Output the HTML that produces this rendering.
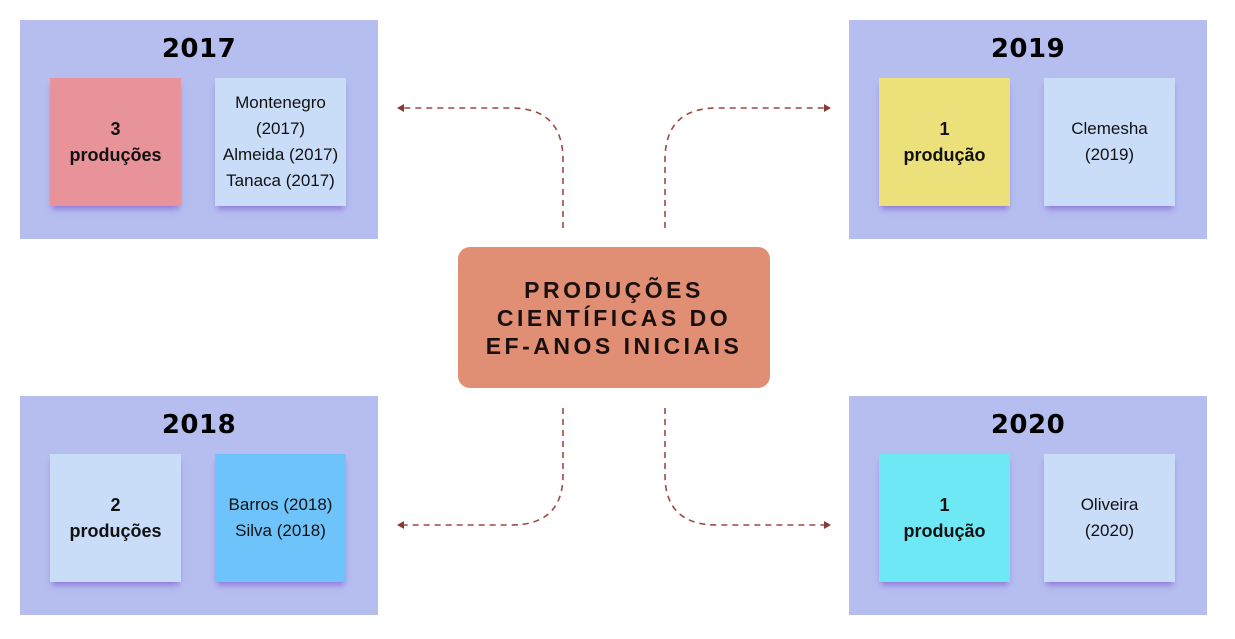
<!DOCTYPE html>
<html><head><meta charset="utf-8"><style>
body{margin:0;width:1235px;height:639px;background:#fff;position:relative;overflow:hidden;font-family:"Liberation Sans",sans-serif}
.p{position:absolute;background:#b6bef0;width:358px;height:219px}
.t{position:absolute;left:0;right:0;text-align:center;font-weight:900;font-size:26px;top:14px;color:#000;letter-spacing:0.5px;font-family:"DejaVu Sans","Liberation Sans",sans-serif}
.b{position:absolute;width:131px;height:128px;display:flex;align-items:center;justify-content:center;text-align:center;box-shadow:0 5px 6px -2px rgba(110,60,200,0.55);font-size:17px;line-height:26px;color:#111}
.bold{font-weight:bold;font-size:18px}
.l{background:#c9dcf8}
.c{position:absolute;left:458px;top:247px;width:312px;height:141px;background:#e08f74;border-radius:12px;display:flex;align-items:center;justify-content:center;text-align:center;font-weight:bold;font-size:23px;letter-spacing:3.5px;line-height:28px;color:#1a1010}
</style></head><body>
<div class="p" style="left:20px;top:20px"><div class="t">2017</div>
<div class="b bold" style="left:30px;top:58px;background:#e8939a">3<br>produções</div>
<div class="b l" style="left:195px;top:58px">Montenegro<br>(2017)<br>Almeida (2017)<br>Tanaca (2017)</div></div>
<div class="p" style="left:849px;top:20px"><div class="t">2019</div>
<div class="b bold" style="left:30px;top:58px;background:#ebe07a">1<br>produção</div>
<div class="b l" style="left:195px;top:58px">Clemesha<br>(2019)</div></div>
<div class="p" style="left:20px;top:396px"><div class="t">2018</div>
<div class="b bold l" style="left:30px;top:58px">2<br>produções</div>
<div class="b" style="left:195px;top:58px;background:#6ec4fa">Barros (2018)<br>Silva (2018)</div></div>
<div class="p" style="left:849px;top:396px"><div class="t">2020</div>
<div class="b bold" style="left:30px;top:58px;background:#6ee8f4">1<br>produção</div>
<div class="b l" style="left:195px;top:58px">Oliveira<br>(2020)</div></div>
<div class="c">PRODUÇÕES<br>CIENTÍFICAS DO<br>EF-ANOS INICIAIS</div>
<svg width="1235" height="639" style="position:absolute;left:0;top:0">
<g fill="none" stroke="#9a4a44" stroke-width="1.6" stroke-dasharray="6,5">
<path d="M563 228 V160 Q563 108 511 108 H404"/>
<path d="M665 228 V160 Q665 108 717 108 H824"/>
<path d="M563 408 V475 Q563 525 511 525 H404"/>
<path d="M665 408 V475 Q665 525 717 525 H824"/>
</g>
<g fill="#8a3a34">
<path d="M397 108 L404 104 L404 112Z"/>
<path d="M831 108 L824 104 L824 112Z"/>
<path d="M397 525 L404 521 L404 529Z"/>
<path d="M831 525 L824 521 L824 529Z"/>
</g></svg>
</body></html>
